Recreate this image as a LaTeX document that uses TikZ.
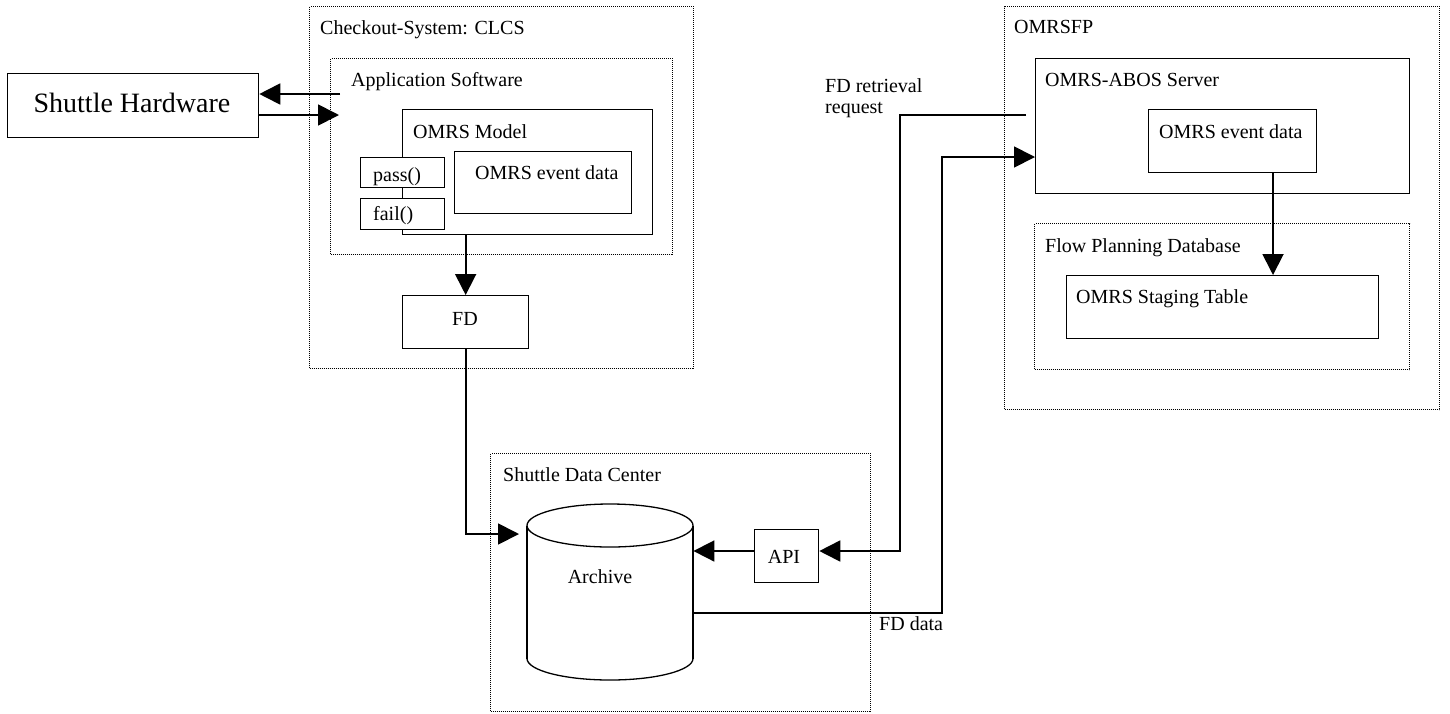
\documentclass[tikz,border=0pt]{standalone}
\usepackage{fontspec}
\setmainfont{Liberation Serif}
\usetikzlibrary{arrows.meta,calc}
\begin{document}
\begin{tikzpicture}[x=1pt,y=-1pt,
  box/.style={draw,line width=1.3pt,fill=white,inner sep=0pt,anchor=north west},
  grp/.style={draw,line width=1pt,dash pattern=on 1pt off 1pt,inner sep=0pt,anchor=north west},
  lbl/.style={inner sep=0pt,anchor=base west,font=\fontsize{20}{24}\selectfont},
  clbl/.style={inner sep=0pt,anchor=base,font=\fontsize{20}{24}\selectfont},
  conn/.style={line width=1.8pt,-{Triangle[length=21pt,width=21pt]}}]
\useasboundingbox (0,0) rectangle (1450,713);
% groups
\node[grp,minimum width=384pt,minimum height=362pt] (clcs) at (309,6) {};
\node[grp,minimum width=342pt,minimum height=196pt] (appsw) at (330,58) {};
\node[grp,minimum width=380pt,minimum height=258pt] (sdc) at (490,453) {};
\node[grp,minimum width=435pt,minimum height=403pt] (omrsfp) at (1004,6) {};
\node[grp,minimum width=375pt,minimum height=146pt] (fpdb) at (1034,223) {};
% boxes
\node[box,minimum width=251pt,minimum height=64pt,font=\fontsize{28}{32}\selectfont] (hw) at (7,73) {};
\node[inner sep=0pt,anchor=base,font=\fontsize{28}{32}\selectfont] (thw) at (132,112) {Shuttle Hardware};
\node[box,minimum width=250pt,minimum height=125pt] (model) at (402,109) {};
\node[box,minimum width=84pt,minimum height=30pt] (pass) at (360,157) {};
\node[box,minimum width=84pt,minimum height=31pt] (fail) at (360,198) {};
\node[box,minimum width=177pt,minimum height=62pt] (ev1) at (454,151) {};
\node[box,minimum width=126pt,minimum height=53pt] (fd) at (402,295) {};
\node[inner sep=0pt,minimum width=166pt,minimum height=176pt,anchor=north west] (archive) at (527,504) {};
\node[box,minimum width=64pt,minimum height=53pt] (api) at (754,529) {};
\node[box,minimum width=374pt,minimum height=135pt] (server) at (1035,58) {};
\node[box,minimum width=168pt,minimum height=63pt] (ev2) at (1148,109) {};
\node[box,minimum width=312pt,minimum height=63pt] (staging) at (1066,275) {};
% archive cylinder
\draw[line width=1.3pt,fill=white] (610,658.5) ellipse [x radius=83, y radius=21.5];
\fill[white] (527,525.5) rectangle (693,658.5);
\draw[line width=1.3pt] (527,525.5) -- (527,658.5);
\draw[line width=1.3pt] (693,525.5) -- (693,658.5);
\draw[line width=1.3pt,fill=white] (610,525.5) ellipse [x radius=83, y radius=21.5];
% labels
\node[lbl] (tclcs) at (320,34) {Checkout-System: CLCS};
\node[lbl] (tapp) at (351,86) {Application Software};
\node[lbl] (tmodel) at (413,138) {OMRS Model};
\node[lbl] (tpass) at (373,181) {pass()};
\node[lbl] (tfail) at (373,220) {fail()};
\node[lbl] (tev1) at (475,179) {OMRS event data};
\node[clbl] (tfd) at (465,325) {FD};
\node[lbl] (tsdc) at (503,481) {Shuttle Data Center};
\node[clbl] (tarch) at (600,583) {Archive};
\node[clbl] (tapi) at (784,563) {API};
\node[lbl] (tfddata) at (879,630) {FD data};
\node[lbl] (treq1) at (825,92) {FD retrieval};
\node[lbl] (treq2) at (825,113) {request};
\node[lbl] (tomrsfp) at (1014,33) {OMRSFP};
\node[lbl] (tserver) at (1045,86) {OMRS-ABOS Server};
\node[lbl] (tev2) at (1159,138) {OMRS event data};
\node[lbl] (tfpdb) at (1045,252) {Flow Planning Database};
\node[lbl] (tstage) at (1076,303) {OMRS Staging Table};
% connectors
\coordinate (hwin) at (340,94);
\coordinate (hwout) at (339,115);
\draw[conn] (hwin) -- (hwin -| hw.east);
\draw[conn] (hwout -| hw.east) -- (hwout);
\draw[conn] (model.south -| fd.north) -- (fd.north);
\coordinate (arcin) at (519,534);
\draw[conn] (fd.south) |- (arcin);
\coordinate (apiy) at (818,551);
\draw[conn] (apiy -| api.west) -- (apiy -| archive.east);
\coordinate (rqs) at (1026,115);
\coordinate (rqt) at (900,551);
\draw[conn] (rqs) -| (rqt) -- (apiy -| api.east);
\coordinate (fdt) at (942,613);
\coordinate (fdu) at (942,157);
\draw[conn] (fdt -| archive.east) -- (fdt) -- (fdu) -- (fdu -| server.west);
\coordinate (evx) at (1273,0);
\draw[conn] (evx |- ev2.south) -- (evx |- staging.north);
\end{tikzpicture}
\end{document}
